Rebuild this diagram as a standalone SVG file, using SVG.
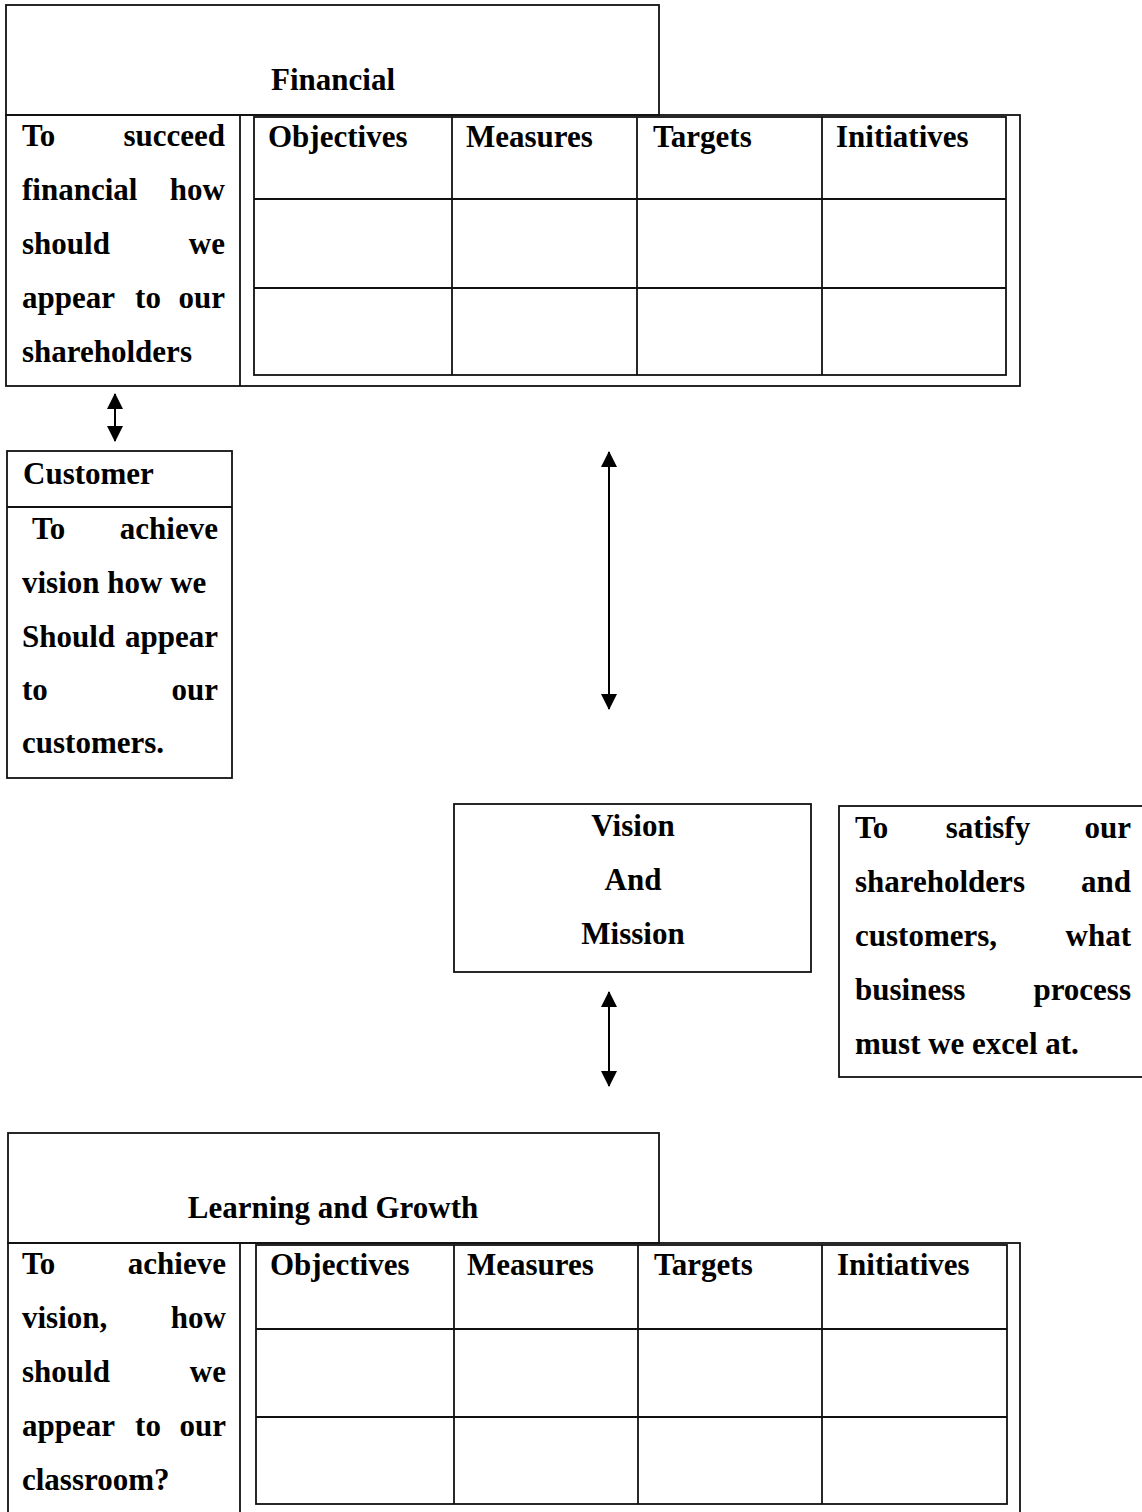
<svg xmlns="http://www.w3.org/2000/svg" width="1142" height="1512" viewBox="0 0 1142 1512">
<defs>
<style>
.b{fill:none;stroke:#111;stroke-width:1.8}
.t{font-family:"Liberation Serif","Times New Roman",serif;font-weight:bold;font-size:31px;fill:#000}
.e{text-anchor:end}
.m{text-anchor:middle}
.c{stroke:#000;stroke-width:2;fill:none}
</style>
<marker id="ah" viewBox="0 0 16 16" refX="15" refY="8" markerWidth="16" markerHeight="16" markerUnits="userSpaceOnUse" orient="auto-start-reverse">
<path d="M0,0 L16,8 L0,16 z" fill="#000"/>
</marker>
</defs>
<rect width="1142" height="1512" fill="#fff"/>

<g id="financial">
<rect class="b" x="6" y="5" width="653" height="110"/>
<text class="t m" x="333" y="90">Financial</text>
<rect class="b" x="6" y="115" width="1014" height="271"/>
<line class="b" x1="240" y1="115" x2="240" y2="386"/>
<rect class="b" x="254" y="117" width="752" height="258"/>
<line class="b" x1="254" y1="199" x2="1006" y2="199"/>
<line class="b" x1="254" y1="288" x2="1006" y2="288"/>
<line class="b" x1="452" y1="117" x2="452" y2="375"/>
<line class="b" x1="637" y1="117" x2="637" y2="375"/>
<line class="b" x1="822" y1="117" x2="822" y2="375"/>
<text class="t" x="268" y="147">Objectives</text>
<text class="t" x="466" y="147">Measures</text>
<text class="t" x="653" y="147">Targets</text>
<text class="t" x="836" y="147">Initiatives</text>
<text class="t" x="22" y="146">To</text><text class="t e" x="225" y="146">succeed</text>
<text class="t" x="22" y="200">financial</text><text class="t e" x="225" y="200">how</text>
<text class="t" x="22" y="254">should</text><text class="t e" x="225" y="254">we</text>
<text class="t" x="22" y="308">appear</text><text class="t m" x="148" y="308">to</text><text class="t e" x="225" y="308">our</text>
<text class="t" x="22" y="362">shareholders</text>
</g>

<g id="customer">
<rect class="b" x="7" y="451" width="225" height="327"/>
<line class="b" x1="7" y1="507" x2="232" y2="507"/>
<text class="t" x="23" y="484">Customer</text>
<text class="t" x="32" y="539">To</text><text class="t e" x="218" y="539">achieve</text>
<text class="t" x="22" y="593">vision how we</text>
<text class="t" x="22" y="647">Should</text><text class="t e" x="218" y="647">appear</text>
<text class="t" x="22" y="700">to</text><text class="t e" x="218" y="700">our</text>
<text class="t" x="22" y="753">customers.</text>
</g>

<g id="vision">
<rect class="b" x="454" y="804" width="357" height="168"/>
<text class="t m" x="633" y="836">Vision</text>
<text class="t m" x="633" y="890">And</text>
<text class="t m" x="633" y="944">Mission</text>
</g>

<g id="internal">
<rect class="b" x="839" y="806" width="330" height="271"/>
<text class="t" x="855" y="838">To</text><text class="t m" x="988" y="838">satisfy</text><text class="t e" x="1131" y="838">our</text>
<text class="t" x="855" y="892">shareholders</text><text class="t e" x="1131" y="892">and</text>
<text class="t" x="855" y="946">customers,</text><text class="t e" x="1131" y="946">what</text>
<text class="t" x="855" y="1000">business</text><text class="t e" x="1131" y="1000">process</text>
<text class="t" x="855" y="1054">must we excel at.</text>
</g>

<g id="learning">
<rect class="b" x="8" y="1133" width="651" height="110"/>
<text class="t m" x="333" y="1218">Learning and Growth</text>
<rect class="b" x="8" y="1243" width="1012" height="300"/>
<line class="b" x1="240" y1="1243" x2="240" y2="1520"/>
<rect class="b" x="256" y="1245" width="751" height="259"/>
<line class="b" x1="256" y1="1329" x2="1007" y2="1329"/>
<line class="b" x1="256" y1="1417" x2="1007" y2="1417"/>
<line class="b" x1="454" y1="1245" x2="454" y2="1504"/>
<line class="b" x1="638" y1="1245" x2="638" y2="1504"/>
<line class="b" x1="822" y1="1245" x2="822" y2="1504"/>
<text class="t" x="270" y="1275">Objectives</text>
<text class="t" x="467" y="1275">Measures</text>
<text class="t" x="654" y="1275">Targets</text>
<text class="t" x="837" y="1275">Initiatives</text>
<text class="t" x="22" y="1274">To</text><text class="t e" x="226" y="1274">achieve</text>
<text class="t" x="22" y="1328">vision,</text><text class="t e" x="226" y="1328">how</text>
<text class="t" x="22" y="1382">should</text><text class="t e" x="226" y="1382">we</text>
<text class="t" x="22" y="1436">appear</text><text class="t m" x="148" y="1436">to</text><text class="t e" x="226" y="1436">our</text>
<text class="t" x="22" y="1490">classroom?</text>
</g>

<g id="connectors">
<line class="c" x1="115" y1="394" x2="115" y2="441" marker-start="url(#ah)" marker-end="url(#ah)"/>
<line class="c" x1="609" y1="452" x2="609" y2="709" marker-start="url(#ah)" marker-end="url(#ah)"/>
<line class="c" x1="609" y1="992" x2="609" y2="1086" marker-start="url(#ah)" marker-end="url(#ah)"/>
</g>
</svg>
